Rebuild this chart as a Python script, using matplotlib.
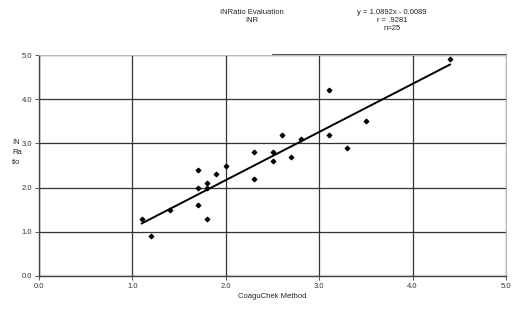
import matplotlib
matplotlib.use("Agg")
import matplotlib.pyplot as plt
import numpy as np

# CoaguChek vs INRatio readings
coaguchek = [1.1, 1.2, 1.4, 1.7, 1.7, 1.7, 1.8, 1.8, 1.8, 1.9, 2.0, 2.3, 2.3,
             2.5, 2.5, 2.6, 2.7, 2.8, 3.1, 3.1, 3.3, 3.5, 4.4]
inratio = [1.3, 0.9, 1.5, 2.4, 2.0, 1.6, 2.1, 2.0, 1.3, 2.3, 2.5, 2.8, 2.2,
           2.8, 2.6, 3.2, 2.7, 3.1, 4.2, 3.2, 2.9, 3.5, 4.9]
slope, intercept = 1.0892, -0.0089
ticks = [0.0, 1.0, 2.0, 3.0, 4.0, 5.0]

plt.rcParams["font.family"] = ["Liberation Sans", "DejaVu Sans"]

fig = plt.figure(figsize=(5.2, 3.11), dpi=100)
ax = fig.add_axes([39 / 520, 1 - 276 / 311, 467 / 520, 221 / 311])

ax.scatter(coaguchek, inratio, marker="D", s=5, color="black", zorder=3)
xs = np.array([min(coaguchek), max(coaguchek)])
ax.plot(xs, slope * xs + intercept, color="black", lw=1.4, zorder=3)

ax.set_xlim(0, 5)
ax.set_ylim(0, 5)
ax.set_xticks(ticks)
ax.set_yticks(ticks)
ax.set_xticklabels([f"{t:.1f}" for t in ticks], fontsize=5.5, color="#333")
ax.set_yticklabels([f"{t:.1f}" for t in ticks], fontsize=5.5, color="#333")
ax.tick_params(length=3, width=0.7, color="#555", pad=2)
ax.grid(True, color="#333", lw=0.9)

for s in ["left", "bottom"]:
    ax.spines[s].set_color("#444")
    ax.spines[s].set_linewidth(1.0)
ax.spines["right"].set_color("#bbb")
ax.spines["top"].set_color("#bbb")
ax.axhline(5, xmin=0.5, xmax=1, color="#222", lw=1.2, clip_on=False)

ax.set_xlabel("CoaguChek Method", fontsize=5.5, labelpad=2, color="#222")
fig.text(12 / 520, 1 - 153 / 311, "IN\nRa\ntio", fontsize=5.5, ha="left",
         va="center", linespacing=1.6, color="#222")

fig.text(252 / 520, 1 - 17 / 311, "INRatio Evaluation\nINR", fontsize=5.5,
         ha="center", va="center", color="#222")
fig.text(392 / 520, 1 - 21 / 311, "y = 1.0892x - 0.0089\nr = .9281\nn=25",
         fontsize=5.5, ha="center", va="center", color="#222")

fig.savefig("out.png", dpi=100)
